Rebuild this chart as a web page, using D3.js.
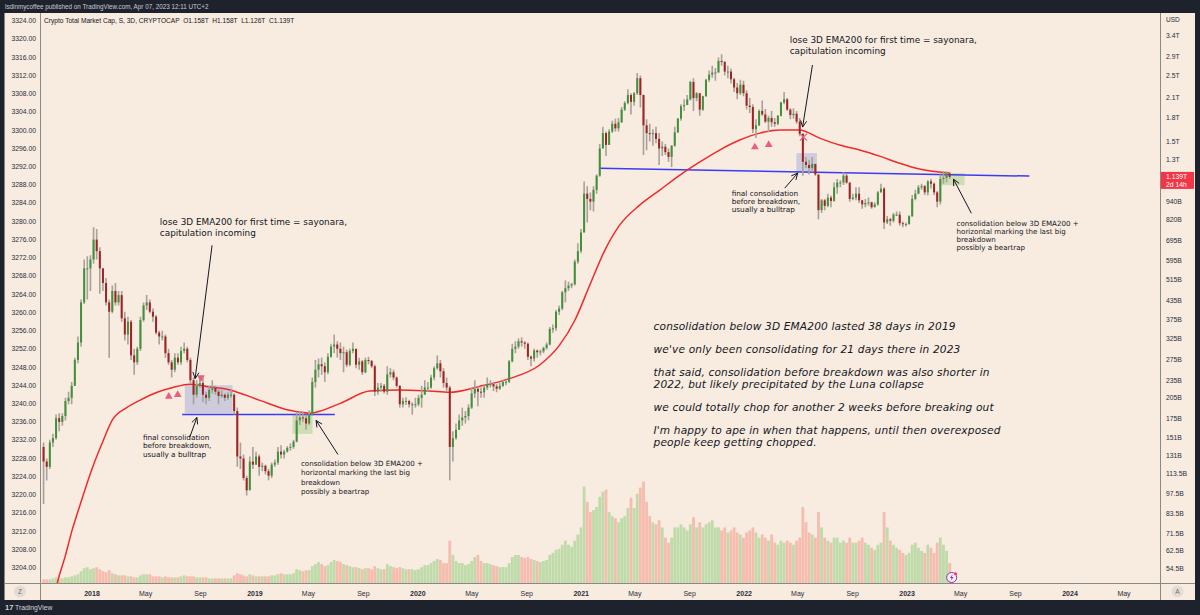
<!DOCTYPE html>
<html lang="en">
<head>
<meta charset="UTF-8">
<title>Crypto Total Market Cap, 3D</title>
<script src="https://d3js.org/d3.v7.min.js"></script>
<style>
  body { margin: 0; background: #1e222d; }
  svg { display: block; font-family: "Liberation Sans", Arial, sans-serif; }
</style>
</head>
<body>
<svg id="chart" width="1200" height="615"></svg>
<script>
// weekly candles, values in billions USD
const firstWeek = "2017-09-11";
const firstOpen = 140;

const close2017 = [125,120,145,150,175,170,178,200,205,225,275,315,430,560,560,600];
const high2017  = [145,128,148,155,180,182,182,205,215,232,280,330,440,600,615,620];
const low2017   = [90,108,118,140,148,158,165,172,195,195,225,268,305,425,440,470];
const vol2017   = [4,4,4,5,6,5,5,6,6,7,8,9,12,15,16,14];

const close2018 = [700,640,560,500,430, 400,470,430,455, 380,335,370,285, 270,300,375,420,430, 400,385,340,330, 330,290,270,255, 280,270,295,300,275, 235,210,225,230, 210,205,218,222, 215,208,210,205,210, 210,185,130,128, 110,100,125,122,130];
const high2018  = [770,760,660,560,520, 440,490,500,470, 470,400,385,375, 300,305,385,430,455, 440,410,390,345, 345,335,300,275, 290,290,305,315,305, 280,240,235,240, 240,215,225,235, 225,220,218,212,214, 218,212,190,145, 132,112,130,140,135];
const low2018   = [580,600,460,470,420, 280,395,420,420, 370,320,310,275, 245,265,295,370,405, 395,370,335,310, 320,280,265,240, 250,265,265,290,270, 228,195,205,222, 198,195,200,212, 210,195,205,200,202, 205,180,120,118, 108,96,100,118,122];
const vol2018   = [15,16,14,12,11, 13,10,9,8, 8,8,7,7, 6,6,8,9,9, 9,7,7,7, 6,7,6,6, 6,6,7,8,7, 7,7,6,6, 6,6,5,5, 5,5,5,5,5, 5,8,10,9, 8,7,9,8,7];

const close2019 = [120,121,116,112, 122,124,135,132, 135,139,140,146, 172,176,175,168,180, 232,255,266,262, 250,282,305,310, 300,290,292,265,295, 300,265,272,250, 275,273,262,215,222, 225,215,246,250, 240,225,195,200, 200,195,195,195,205];
const high2019  = [132,124,122,118, 124,127,140,142, 137,141,144,148, 184,185,184,180,186, 240,275,278,280, 270,290,312,335, 318,315,305,298,300, 315,300,280,275, 280,282,275,265,230, 230,228,262,258, 255,242,226,205, 206,202,198,205,210];
const low2019   = [112,116,113,108, 110,120,122,128, 128,134,136,138, 145,166,170,160,166, 178,222,240,245, 232,246,280,290, 280,275,250,260,262, 290,258,255,245, 248,266,258,208,210, 215,212,210,240, 235,222,190,190, 194,190,180,190,192];
const vol2019   = [7,7,7,7, 8,8,9,10, 9,9,9,10, 14,13,12,13,13, 17,19,21,19, 17,18,21,23, 22,21,19,18,17, 16,16,15,14, 15,15,14,17,15, 14,14,19,17, 16,15,16,15, 14,14,14,13,14];

const close2020 = [210,222,222,240, 258,268,252,230, 222,140,150,160,172, 176,178,190,212, 220,215,214,222, 228,228,224,220,225, 232,232,272,300, 305,318,315,312,282, 278,296,292,294, 302,310,350,352, 400,410,465,480,490, 495,590,640,740];
const high2020  = [225,235,232,245, 262,285,275,258, 240,225,158,168,180, 190,185,195,222, 235,225,222,226, 240,235,232,228,230, 236,236,275,312, 318,325,328,318,315, 285,300,298,298, 305,315,355,362, 405,420,470,510,505, 500,600,680,760];
const low2020   = [190,210,215,220, 235,255,240,222, 215,108,125,148,160, 165,168,172,188, 205,192,205,205, 218,222,216,214,218, 223,226,230,270, 290,300,305,300,275, 262,272,280,285, 290,298,308,340, 345,390,405,430,470, 480,490,580,630];
const vol2020   = [16,18,18,20, 22,24,23,20, 20,42,28,22,20, 20,18,19,22, 26,28,22,20, 20,19,18,17,16, 16,16,20,26, 28,28,26,25,26, 24,23,22,21, 22,23,28,30, 33,34,38,42,38, 36,42,48,55];

const close2021 = [1000,960,940,1030, 1150,1420,1600,1460, 1620,1720,1660,1740,1920, 2020,2150,2040,2180, 2450,2150,1700,1600,1590, 1600,1530,1420,1440, 1380,1330,1450,1610, 1790,1970,1990,2080,2380, 2100,2180,1920,2130, 2420,2520,2560,2560, 2800,2780,2580,2580,2430, 2280,2180,2330,2180];
const high2021  = [1100,1060,1010,1060, 1160,1470,1680,1620, 1650,1760,1790,1800,1960, 2050,2250,2180,2200, 2550,2500,2160,1780,1720, 1650,1680,1600,1500, 1470,1420,1460,1680, 1800,2000,2080,2150,2400, 2450,2200,2180,2140, 2440,2600,2700,2650, 2880,2950,2800,2700,2640, 2460,2360,2420,2400];
const low2021   = [740,800,880,870, 1000,1140,1420,1340, 1460,1600,1620,1620,1730, 1900,2000,1850,1980, 2150,1950,1350,1400,1500, 1450,1480,1250,1340, 1350,1280,1230,1440, 1600,1760,1900,1990,2060, 1900,2050,1830,1900, 2120,2380,2460,2400, 2560,2700,2500,2450,2350, 2200,2080,2150,2130];
const vol2021   = [95,80,70,72, 75,85,90,92, 70,66,64,60,64, 66,74,84,74, 88,94,100,80,66, 60,58,62,55, 45,40,45,55, 55,58,55,52,58, 65,55,60,55, 58,60,62,55, 55,52,55,50,52, 55,50,48,45];

const close2022 = [1980,1960,1650,1700,1900, 1850,1750,1800,1740, 1720,1830,2030,2080, 1920,1840,1860,1750, 1590,1280,1250,1220,1260, 1160,880,950,910, 970,945,1050,1090, 1090,1150,1090,960,970, 1000,950,920,930, 935,900,920,1010,1040, 800,820,810,850, 850,795,790,790];
const high2022  = [2230,2100,2000,1780,1920, 2060,1930,1830,1900, 1800,1840,2040,2200, 2100,1940,1940,1900, 1800,1600,1330,1300,1330, 1260,1160,960,960, 1000,985,1090,1120, 1110,1180,1170,1090,1000, 1050,1050,950,960, 970,940,935,1020,1080, 1050,840,830,860, 870,870,805,800];
const low2022   = [1920,1870,1600,1540,1690, 1830,1730,1610,1680, 1680,1700,1820,2000, 1900,1780,1790,1720, 1560,1150,1220,1160,1180, 1150,820,860,880, 900,900,940,1000, 1050,1070,1080,940,950, 950,930,890,900, 910,890,900,910,1010, 760,790,780,800, 840,780,770,775];
const vol2022   = [50,52,55,50,45, 48,45,42,48, 40,38,42,40, 42,40,38,42, 45,75,60,50,48, 45,70,55,45, 42,40,45,45, 40,42,40,45,40, 40,42,45,40, 38,35,33,38,40, 70,55,42,38, 35,33,30,28];

const close2023 = [840,960,1000,1050,1060, 1010,1100,1080,1010, 940,1120,1130,1170, 1139];
const high2023  = [845,990,1030,1070,1080, 1070,1110,1120,1090, 1020,1160,1190,1190, 1185];
const low2023   = [785,835,950,995,1030, 990,985,1040,990, 900,920,1080,1090, 1120];
const vol2023   = [30,38,40,35,32, 30,38,35,30, 40,45,38,32, 20];

// 3D EMA200
const emaPoints = [
  ["2017-10-01",38],["2017-10-15",48.5],["2017-11-02",60],["2017-11-17",73],["2017-12-05",89],
  ["2017-12-23",108],["2018-01-08",126],["2018-01-26",147],["2018-02-15",172],["2018-03-20",190],
  ["2018-04-18",201],["2018-05-27",214],["2018-07-01",222],["2018-08-08",228],["2018-09-15",224],
  ["2018-11-06",218],["2019-01-12",201],["2019-03-20",186],["2019-05-04",182],["2019-07-10",196],
  ["2019-09-15",216],["2019-11-21",218],["2020-01-27",216],["2020-03-12",214],["2020-05-18",224],
  ["2020-07-24",238],["2020-09-29",264],["2020-11-13",308],["2020-12-18",375],["2021-01-20",491],
  ["2021-02-23",645],["2021-03-28",783],["2021-05-12",915],["2021-06-26",1028],["2021-08-10",1155],
  ["2021-09-23",1277],["2021-11-07",1403],["2021-12-22",1516],["2022-02-05",1600],["2022-03-22",1638],
  ["2022-05-05",1638],["2022-06-19",1539],["2022-08-03",1458],["2022-09-17",1403],["2022-10-31",1338],
  ["2022-12-15",1267],["2023-01-29",1210],["2023-03-15",1182],["2023-04-06",1173]
];

const priceTicks = [3400,2900,2500,2100,1800,1500,1300,940,820,695,595,515,435,375,325,275,235,205,175,151,131,113.5,97.5,83.5,71.5,62.5,54.5];
const leftTicks = d3.range(3204, 3325, 4);

const zones = [
  { from: "2018-07-28", to: "2018-11-12", top: 226, bottom: 182, kind: "blue" },
  { from: "2019-03-26", to: "2019-05-10", top: 180, bottom: 155, kind: "green" },
  { from: "2022-04-28", to: "2022-06-13", top: 1370, bottom: 1182, kind: "blue" },
  { from: "2023-03-15", to: "2023-05-10", top: 1173, bottom: 1068, kind: "green" }
];
const levels = [
  { from: "2018-07-22", to: "2019-06-29", p0: 180, p1: 180 },
  { from: "2021-02-11", to: "2023-10-02", p0: 1219, p1: 1146 }
];
const upMarks = [["2018-06-22",207],["2018-07-12",210],["2022-01-25",1435],["2022-02-25",1463]];
const downMarks = [["2018-09-02",240]];
const crossMarks = [["2022-05-14",1551]];

const arrows = [
  [["2018-09-27",670],["2018-08-20",238]],
  [["2018-08-08",151],["2018-08-24",176]],
  [["2019-07-06",132],["2019-05-18",172]],
  [["2022-06-03",2714],["2022-05-12",1677]],
  [["2022-04-02",1044],["2022-05-01",1173]],
  [["2023-05-25",859],["2023-04-15",1119]]
];

const loseText = ["lose 3D EMA200 for first time = sayonara,", "capitulation incoming"];
const bullText = ["final consolidation", "before breakdown,", "usually a bulltrap"];
const bearText = ["consolidation below 3D EMA200 +", "horizontal marking the last big", "breakdown", "possibly a beartrap"];
const bigText = [
  "consolidation below 3D EMA200 lasted 38 days in 2019", "",
  "we've only been consolidating for 21 days there in 2023", "",
  "that said, consolidation before breakdown was also shorter in",
  "2022, but likely precipitated by the Luna collapse", "",
  "we could totally chop for another 2 weeks before breaking out", "",
  "I'm happy to ape in when that happens, until then overexposed",
  "people keep getting chopped."
];
const notes = [
  { at: ["2018-06-02", 801], size: 8.9, gap: 10.8, lines: loseText },
  { at: ["2018-04-25", 151], size: 7.3, gap: 8.4, lines: bullText },
  { at: ["2019-04-14", 123], size: 7.1, gap: 9.2, lines: bearText },
  { at: ["2022-04-13", 3296], size: 8.9, gap: 10.8, lines: loseText },
  { at: ["2021-12-04", 1004], size: 7.3, gap: 8.2, lines: bullText },
  { at: ["2023-04-22", 795], size: 7.1, gap: 8.2, lines: bearText },
  { at: ["2021-06-12", 357], size: 10.6, gap: 12, blank: 11, spacing: 0.15, lines: bigText, italic: true }
];

const legendText = "Crypto Total Market Cap, S, 3D, CRYPTOCAP  O1.158T  H1.158T  L1.126T  C1.139T";
const headerText = "lsdinmycoffee published on TradingView.com, Apr 07, 2023 12:11 UTC+2";

// ---------------------------------------------------------------
const closes = [].concat(close2017, close2018, close2019, close2020, close2021, close2022, close2023);
const highs = [].concat(high2017, high2018, high2019, high2020, high2021, high2022, high2023);
const lows = [].concat(low2017, low2018, low2019, low2020, low2021, low2022, low2023);
const vols = [].concat(vol2017, vol2018, vol2019, vol2020, vol2021, vol2022, vol2023);

const start = new Date(firstWeek);
const candles = closes.map((c, i) => {
  const open = i === 0 ? firstOpen : closes[i - 1];
  return {
    date: d3.utcDay.offset(start, 7 * i),
    open, close: c,
    high: Math.max(highs[i], open, c),
    low: Math.min(lows[i], open, c),
    vol: vols[i]
  };
});

const svg = d3.select("#chart");
const W = 1200, H = 615;
const plot = { left: 40.5, right: 1160.5, top: 13, bottom: 583.5 };

const x = d3.scaleUtc()
  .domain([new Date("2018-01-01"), new Date("2024-01-01")])
  .range([92, 1070]);
const y = d3.scaleLog().domain([54.5, 3400]).range([568.5, 36]);
const yLeft = d3.scaleLinear().domain([3204, 3324]).range([567.7, 20.7]);
const yVol = d3.scaleLinear().domain([0, 100]).range([plot.bottom, plot.bottom - 102]);

const day = 864e5;
const mid = d => new Date(+d + 3.5 * day);
const px = s => x(new Date(s));

// frame
svg.append("rect").attr("width", W).attr("height", H).attr("fill", "#1e222d");
svg.append("rect").attr("x", 4.5).attr("y", 13).attr("width", 1190.5).attr("height", 587)
  .attr("fill", "#f8ebe0");
svg.append("text").attr("x", 5).attr("y", 9).attr("font-size", 6.3).attr("fill", "#c9ccd4")
  .text(headerText);

svg.append("defs").append("clipPath").attr("id", "plotclip")
  .append("rect").attr("x", plot.left).attr("y", plot.top)
  .attr("width", plot.right - plot.left).attr("height", plot.bottom - plot.top);

const g = svg.append("g").attr("clip-path", "url(#plotclip)");

// volume
g.append("g").selectAll("rect").data(candles).join("rect")
  .attr("x", d => x(mid(d.date)) - 1.4)
  .attr("width", 2.8)
  .attr("y", d => yVol(d.vol))
  .attr("height", d => plot.bottom - yVol(d.vol))
  .attr("fill", d => d.close >= d.open ? "#bedba9" : "#f5bcaf");

// consolidation zones
g.append("g").selectAll("rect").data(zones).join("rect")
  .attr("x", d => px(d.from))
  .attr("width", d => px(d.to) - px(d.from))
  .attr("y", d => y(d.top))
  .attr("height", d => y(d.bottom) - y(d.top))
  .attr("fill", d => d.kind === "blue" ? "rgba(120,140,215,0.33)" : "rgba(140,200,110,0.38)");

// horizontal levels
g.append("g").selectAll("line").data(levels).join("line")
  .attr("x1", d => px(d.from)).attr("x2", d => px(d.to))
  .attr("y1", d => y(d.p0)).attr("y2", d => y(d.p1))
  .attr("stroke", "#3a3cf5").attr("stroke-width", 1.5);

// EMA200
const emaLine = d3.line()
  .x(d => px(d[0]))
  .y(d => y(d[1]))
  .curve(d3.curveMonotoneX);
g.append("path").datum(emaPoints).attr("d", emaLine)
  .attr("fill", "none").attr("stroke", "#f02a2a").attr("stroke-width", 1.5);

// candles
const cg = g.append("g");
cg.selectAll("line").data(candles).join("line")
  .attr("x1", d => x(mid(d.date))).attr("x2", d => x(mid(d.date)))
  .attr("y1", d => y(d.high)).attr("y2", d => y(d.low))
  .attr("stroke", "#a8a199").attr("stroke-width", 1.6);
cg.selectAll("rect").data(candles).join("rect")
  .attr("x", d => x(mid(d.date)) - 1)
  .attr("width", 2)
  .attr("y", d => y(Math.max(d.open, d.close)))
  .attr("height", d => Math.max(1, Math.abs(y(d.open) - y(d.close))))
  .attr("fill", d => d.close >= d.open ? "#3f923a" : "#a02222");

// markers
const tri = d3.symbol().type(d3.symbolTriangle).size(26);
g.append("g").selectAll("path.up").data(upMarks).join("path")
  .attr("transform", d => `translate(${px(d[0])},${y(d[1])})`)
  .attr("d", tri).attr("fill", "#ec5f7c");
g.append("g").selectAll("path.dn").data(downMarks).join("path")
  .attr("transform", d => `translate(${px(d[0])},${y(d[1])}) rotate(180)`)
  .attr("d", tri).attr("fill", "#ec5f7c");
g.append("g").selectAll("path.x").data(crossMarks).join("path")
  .attr("transform", d => `translate(${px(d[0])},${y(d[1])})`)
  .attr("d", "M-3.5,-3.5L3.5,3.5M-3.5,3.5L3.5,-3.5")
  .attr("stroke", "#ec5f7c").attr("stroke-width", 1.3);

// arrows
function arrowPath(a) {
  const x1 = px(a[0][0]), y1 = y(a[0][1]), x2 = px(a[1][0]), y2 = y(a[1][1]);
  const ang = Math.atan2(y2 - y1, x2 - x1), L = 7, s = 0.45;
  return `M${x1},${y1}L${x2},${y2}` +
    `M${x2 - L * Math.cos(ang - s)},${y2 - L * Math.sin(ang - s)}L${x2},${y2}` +
    `L${x2 - L * Math.cos(ang + s)},${y2 - L * Math.sin(ang + s)}`;
}
g.append("g").selectAll("path").data(arrows).join("path")
  .attr("d", arrowPath)
  .attr("fill", "none").attr("stroke", "#131722").attr("stroke-width", 1);

// text notes; an empty line is a paragraph break
notes.forEach(n => {
  const t = g.append("text")
    .attr("font-family", "'DejaVu Sans', Verdana, sans-serif")
    .attr("font-size", n.size)
    .attr("font-style", n.italic ? "italic" : null)
    .attr("letter-spacing", n.spacing || null)
    .attr("fill", "#131722");
  let dy = 0;
  n.lines.forEach(line => {
    if (line === "") { dy += n.blank; return; }
    t.append("tspan")
      .attr("x", px(n.at[0]))
      .attr("y", y(n.at[1]) + dy + n.size * 0.36)
      .text(line);
    dy += n.gap;
  });
});

const last = candles[candles.length - 1];

// legend
svg.append("text").attr("x", 44).attr("y", 23).attr("font-size", 6.6).attr("fill", "#131722")
  .attr("xml:space", "preserve").text(legendText);

// axes frame lines
const frame = svg.append("g").attr("stroke", "#8c8882").attr("stroke-width", 1);
frame.append("line").attr("x1", plot.left).attr("x2", plot.left).attr("y1", 13).attr("y2", 600);
frame.append("line").attr("x1", plot.right).attr("x2", plot.right).attr("y1", 13).attr("y2", 600);
frame.append("line").attr("x1", 4.5).attr("x2", 1195).attr("y1", plot.bottom).attr("y2", plot.bottom);

// left scale
svg.append("g").selectAll("text").data(leftTicks).join("text")
  .attr("x", 36).attr("y", d => yLeft(d) + 2.4)
  .attr("text-anchor", "end").attr("font-size", 6.8).attr("fill", "#2a2e39")
  .text(d => d.toFixed(2));

// right price scale
const fmtPrice = v => v >= 1000 ? (v / 1000) + "T" : v + "B";
svg.append("g").selectAll("text").data(priceTicks).join("text")
  .attr("x", 1166).attr("y", d => y(d) + 2.4)
  .attr("font-size", 6.8).attr("fill", "#2a2e39")
  .text(fmtPrice);
svg.append("text").attr("x", 1166).attr("y", 22.4).attr("font-size", 6.5).attr("fill", "#2a2e39").text("USD");

// current price tag
const ly = y(last.close);
svg.append("rect").attr("x", 1161).attr("y", ly - 5).attr("width", 33).attr("height", 17).attr("fill", "#f23645");
svg.append("text").attr("x", 1166).attr("y", ly + 2.3).attr("font-size", 6.8).attr("fill", "#fff")
  .text((last.close / 1000).toFixed(3) + "T");
svg.append("text").attr("x", 1166).attr("y", ly + 10.3).attr("font-size", 6.8).attr("fill", "#fff")
  .text("2d 14h");

// time axis
const timeTicks = d3.utcMonths(new Date("2017-09-01"), new Date("2024-09-30"), 4)
  .filter(d => x(d) > plot.left + 15 && x(d) < plot.right - 15);
svg.append("g").selectAll("text").data(timeTicks).join("text")
  .attr("x", d => x(d)).attr("y", 595.5)
  .attr("text-anchor", "middle").attr("font-size", 7)
  .attr("font-weight", d => d.getUTCMonth() === 0 ? "bold" : null)
  .attr("fill", "#2a2e39")
  .text(d => d.getUTCMonth() === 0 ? d3.utcFormat("%Y")(d) : d3.utcFormat("%b")(d));

// corner buttons
[[20, "Z"], [1177.5, "A"]].forEach(([cx, s]) => {
  svg.append("circle").attr("cx", cx).attr("cy", 591.5).attr("r", 6).attr("fill", "#e4dcd4");
  svg.append("text").attr("x", cx).attr("y", 594).attr("text-anchor", "middle")
    .attr("font-size", 6.5).attr("fill", "#6a6d78").text(s);
});

// lightning badge
const bx = x(mid(last.date)) + 2, by = plot.bottom - 6;
svg.append("circle").attr("cx", bx).attr("cy", by).attr("r", 5).attr("fill", "#f8f0f8")
  .attr("stroke", "#9c27b0").attr("stroke-width", 1);
svg.append("path").attr("d", `M${bx + 1},${by - 3.5}L${bx - 1.8},${by + 0.5}L${bx},${by + 0.5}L${bx - 1},${by + 3.5}L${bx + 1.8},${by - 0.5}L${bx},${by - 0.5}Z`)
  .attr("fill", "#9c27b0");
svg.append("circle").attr("cx", bx + 3.8).attr("cy", by - 3.8).attr("r", 1.5).attr("fill", "#f23645");

// footer logo
svg.append("text").attr("x", 5).attr("y", 610).attr("font-size", 7.5).attr("font-weight", "bold")
  .attr("fill", "#d1d4dc").text("17");
svg.append("text").attr("x", 15).attr("y", 610).attr("font-size", 6.8)
  .attr("fill", "#d1d4dc").text("TradingView");
</script>
</body>
</html>
